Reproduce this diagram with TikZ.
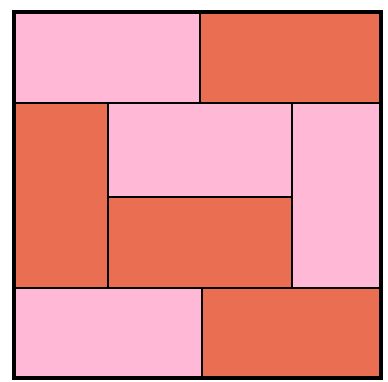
\documentclass[tikz,border=0pt]{standalone}
\definecolor{pinkq}{RGB}{255,184,214}
\definecolor{orangeq}{RGB}{233,110,82}
\begin{document}
\begin{tikzpicture}[x=1pt,y=-1pt,
  pinkbox/.style={fill=pinkq,draw=black,line width=1.6pt},
  orangebox/.style={fill=orangeq,draw=black,line width=1.6pt}]
\useasboundingbox (0,0) rectangle (388,382);
\fill[white] (0,0) rectangle (388,382);
% top row
\path[pinkbox] (14,12) rectangle (200,103);
\path[orangebox] (200,12) rectangle (381,103);
% middle row
\path[orangebox] (14,103) rectangle (108,288);
\path[pinkbox] (108,103) rectangle (292,197);
\path[orangebox] (108,197) rectangle (292,288);
\path[pinkbox] (292,103) rectangle (381,288);
% bottom row
\path[pinkbox] (14,288) rectangle (202,378);
\path[orangebox] (202,288) rectangle (381,378);
% outer frame
\draw[line width=3.2pt] (14,12) rectangle (381,378);
\end{tikzpicture}
\end{document}
